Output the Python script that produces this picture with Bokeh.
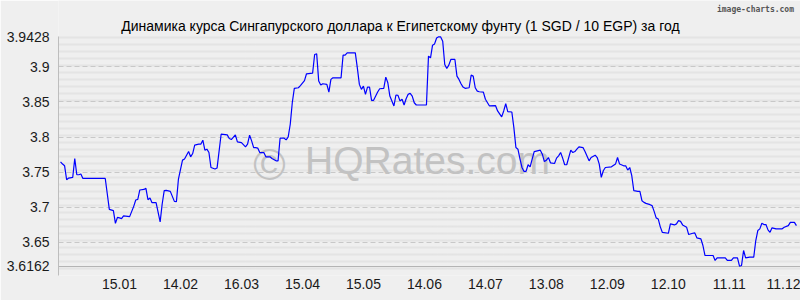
from bokeh.plotting import figure
from bokeh.models import Range1d, FixedTicker, Grid, CustomJSTickFormatter
from bokeh.embed import file_html
from bokeh.resources import INLINE
from bokeh.core.properties import value
import numpy as np

title_text = "Динамика курса Сингапурского доллара к Египетскому фунту (1 SGD / 10 EGP) за год"

# days since 16.12.2014
days = [1, 2, 3, 4, 5, 7, 8, 9, 10, 11, 12, 23, 25, 27, 28, 29, 30, 31, 32, 35,
        37, 38, 39, 40, 42, 43, 44, 45, 46, 48, 50, 51, 52, 53, 55, 57, 58, 59, 61, 62,
        64, 65, 66, 67, 69, 70, 71, 72, 73, 74, 75, 77, 78, 80, 83, 84, 85, 87, 88, 90,
        92, 93, 94, 95, 96, 97, 98, 99, 101, 102, 104, 105, 107, 108, 109, 111, 112, 113, 114, 115,
        116, 118, 119, 121, 122, 125, 126, 127, 128, 129, 130, 132, 133, 134, 135, 139, 140, 141, 142, 146,
        147, 148, 149, 150, 151, 152, 153, 154, 155, 157, 158, 160, 161, 162, 163, 165, 166, 167, 168, 169,
        170, 171, 172, 173, 174, 175, 176, 181, 182, 183, 184, 185, 186, 187, 188, 189, 190, 191, 192, 193,
        195, 196, 197, 198, 199, 200, 202, 203, 204, 205, 206, 207, 209, 210, 212, 215, 216, 218, 219, 220,
        221, 223, 224, 225, 226, 227, 228, 229, 230, 231, 232, 233, 234, 237, 238, 239, 240, 241, 242, 244,
        245, 246, 247, 248, 249, 250, 252, 253, 254, 255, 256, 258, 259, 261, 262, 264, 265, 266, 267, 268,
        269, 272, 274, 275, 276, 278, 279, 280, 281, 282, 283, 285, 286, 287, 288, 289, 291, 292, 293, 294,
        295, 296, 297, 300, 301, 303, 304, 305, 306, 307, 309, 310, 312, 313, 314, 316, 317, 318, 322, 323,
        324, 328, 329, 331, 332, 334, 335, 336, 337, 338, 340, 342, 343, 344, 345, 346, 347, 348, 349, 350,
        351, 353, 356, 357, 359, 360, 362, 363]

rate = [3.7648, 3.7616, 3.7591, 3.7393, 3.7417, 3.7426, 3.7695, 3.7464, 3.7464, 3.7474, 3.7411, 3.7411, 3.6972, 3.6953, 3.6773, 3.6858, 3.6850, 3.6840, 3.6878, 3.6868,
        3.7014, 3.7105, 3.7113, 3.7247, 3.7255, 3.7270, 3.7109, 3.7133, 3.7067, 3.7067, 3.6793, 3.7048, 3.7237, 3.7241, 3.7227, 3.7085, 3.7081, 3.7403, 3.7672, 3.7687,
        3.7794, 3.7719, 3.7766, 3.7885, 3.7899, 3.7899, 3.7956, 3.7814, 3.7828, 3.7780, 3.7567, 3.7545, 3.7559, 3.8041, 3.8031, 3.7979, 3.7965, 3.8031, 3.7932, 3.7922,
        3.7861, 3.7899, 3.8027, 3.7946, 3.7851, 3.7851, 3.7843, 3.7780, 3.7780, 3.7719, 3.7719, 3.7695, 3.7662, 3.7662, 3.7984, 3.7984, 3.7960, 3.8003, 3.8183, 3.8489,
        3.8694, 3.8702, 3.8733, 3.8803, 3.8901, 3.8911, 3.9176, 3.9184, 3.8797, 3.8740, 3.8759, 3.8750, 3.8641, 3.8821, 3.8844, 3.8844, 3.9166, 3.9166, 3.9199, 3.9199,
        3.8986, 3.8750, 3.8680, 3.8726, 3.8608, 3.8712, 3.8712, 3.8523, 3.8523, 3.8641, 3.8688, 3.8694, 3.8854, 3.8773, 3.8584, 3.8443, 3.8599, 3.8594, 3.8513, 3.8538,
        3.8457, 3.8546, 3.8608, 3.8623, 3.8584, 3.8489, 3.8457, 3.8457, 3.9152, 3.9128, 3.9308, 3.9326, 3.9411, 3.9428, 3.9425, 3.9365, 3.9034, 3.8977, 3.9024, 3.9105,
        3.9105, 3.8868, 3.8821, 3.8759, 3.8712, 3.8694, 3.8702, 3.8882, 3.8868, 3.8702, 3.8655, 3.8645, 3.8641, 3.8538, 3.8443, 3.8447, 3.8372, 3.8287, 3.8372, 3.8475,
        3.8362, 3.8357, 3.8135, 3.7851, 3.7828, 3.7690, 3.7567, 3.7511, 3.7511, 3.7606, 3.7577, 3.7687, 3.7794, 3.7814, 3.7757, 3.7652, 3.7672, 3.7709, 3.7634, 3.7624,
        3.7701, 3.7733, 3.7780, 3.7701, 3.7606, 3.7606, 3.7814, 3.7780, 3.7794, 3.7828, 3.7861, 3.7851, 3.7794, 3.7662, 3.7709, 3.7743, 3.7709, 3.7616, 3.7426, 3.7521,
        3.7567, 3.7577, 3.7616, 3.7709, 3.7616, 3.7591, 3.7591, 3.7530, 3.7567, 3.7450, 3.7237, 3.7227, 3.7227, 3.7095, 3.7071, 3.7057, 3.7038, 3.7024, 3.6943, 3.6850,
        3.6835, 3.6726, 3.6645, 3.6631, 3.6765, 3.6750, 3.6765, 3.6811, 3.6801, 3.6750, 3.6716, 3.6613, 3.6631, 3.6637, 3.6566, 3.6552, 3.6457, 3.6315, 3.6315, 3.6244,
        3.6282, 3.6282, 3.6244, 3.6244, 3.6282, 3.6282, 3.6162, 3.6173, 3.6386, 3.6282, 3.6291, 3.6291, 3.6528, 3.6670, 3.6694, 3.6773, 3.6755, 3.6755, 3.6679, 3.6645,
        3.6708, 3.6694, 3.6694, 3.6716, 3.6740, 3.6787, 3.6787, 3.6740]

x_tick_days = [30, 60, 90, 120, 150, 180, 210, 240, 270, 300, 330, 360]
x_tick_labels = ["15.01", "14.02", "16.03", "15.04", "15.05", "14.06",
                 "14.07", "13.08", "12.09", "12.10", "11.11", "11.12"]
y_ticks = [3.6162, 3.65, 3.7, 3.75, 3.8, 3.85, 3.9, 3.9428]
y_major_grid = [3.65, 3.7, 3.75, 3.8, 3.85, 3.9]

y_lo, y_top_grid, y_hi = 3.6030, 3.9432, 3.9944
BG = "#efefef"
FONT = "Liberation Sans"

p = figure(width=800, height=300, output_backend="svg", toolbar_location=None,
           x_range=Range1d(0, 365), y_range=Range1d(y_lo, y_hi), title=None,
           min_border_left=58, min_border_right=0, min_border_top=0, min_border_bottom=25,
           background_fill_color=BG, border_fill_color=BG, outline_line_color=None)

# minor dotted rows (uniformly spaced across the chart area)
minor_rows = list(y_lo + np.arange(35) * 0.009964)
p.xgrid.visible = False
p.ygrid.ticker = FixedTicker(ticks=minor_rows)
p.ygrid.grid_line_color = "#d8d8d8"
p.ygrid.grid_line_width = 2.2
p.ygrid.grid_line_dash = "1 1"

major = Grid(dimension=1, ticker=FixedTicker(ticks=y_major_grid),
             grid_line_color="#c8c8c8", grid_line_width=1, grid_line_dash="5 3")
p.add_layout(major)
minline = Grid(dimension=1, ticker=FixedTicker(ticks=[y_ticks[0]]),
               grid_line_color="#b4b4b4", grid_line_width=1)
p.add_layout(minline)

# axes
p.xaxis.ticker = FixedTicker(ticks=x_tick_days)
p.xaxis.formatter = CustomJSTickFormatter(
    args=dict(d=x_tick_days, l=x_tick_labels),
    code="const i = d.indexOf(tick); return i >= 0 ? l[i] : '';")
p.xaxis.axis_line_color = None
p.xaxis.major_tick_line_color = None
p.xaxis.minor_tick_line_color = None
p.xaxis.major_tick_out = 0
p.xaxis.major_tick_in = 0
p.xaxis.major_label_standoff = 3
p.xaxis.major_label_text_font = FONT
p.xaxis.major_label_text_font_size = "14px"
p.xaxis.major_label_text_color = "#1a1a1a"

p.yaxis.ticker = FixedTicker(ticks=y_ticks)
p.yaxis.formatter = CustomJSTickFormatter(code="return String(tick);")
p.yaxis.bounds = (y_lo, y_top_grid)
p.yaxis.axis_line_color = "#bdbdbd"
p.yaxis.major_tick_line_color = None
p.yaxis.minor_tick_line_color = None
p.yaxis.major_tick_out = 0
p.yaxis.major_tick_in = 0
p.yaxis.major_label_standoff = 9
p.yaxis.major_label_text_font = FONT
p.yaxis.major_label_text_font_size = "14px"
p.yaxis.major_label_text_color = "#1a1a1a"

# watermark behind the line
p.text(x=[95.8], y=[3.7615], text=["©"], text_font=value(FONT), text_font_size="44px",
       text_color="#c2c2c2", text_baseline="alphabetic", text_align="left")
p.text(x=[121.3], y=[3.7667], text=["HQRates.com"], text_font=value(FONT), text_font_size="39px",
       text_color="#c2c2c2", text_baseline="alphabetic", text_align="left")

p.line(days, rate, line_color="#0000ff", line_width=1.2)

# title and source mark (inside the extended top area)
p.text(x=[168.2], y=[3.9574], text=[title_text], text_font=value(FONT), text_font_size="14px",
       text_color="#000000", text_baseline="alphabetic", text_align="center")
p.text(x=[361.8], y=[3.9823], text=["image-charts.com"], text_font=value("DejaVu Sans Mono"),
       text_font_style="bold", text_font_size="8px", text_color="#555555",
       text_baseline="alphabetic", text_align="right")

open("out.html", "w").write(file_html(p, INLINE))
